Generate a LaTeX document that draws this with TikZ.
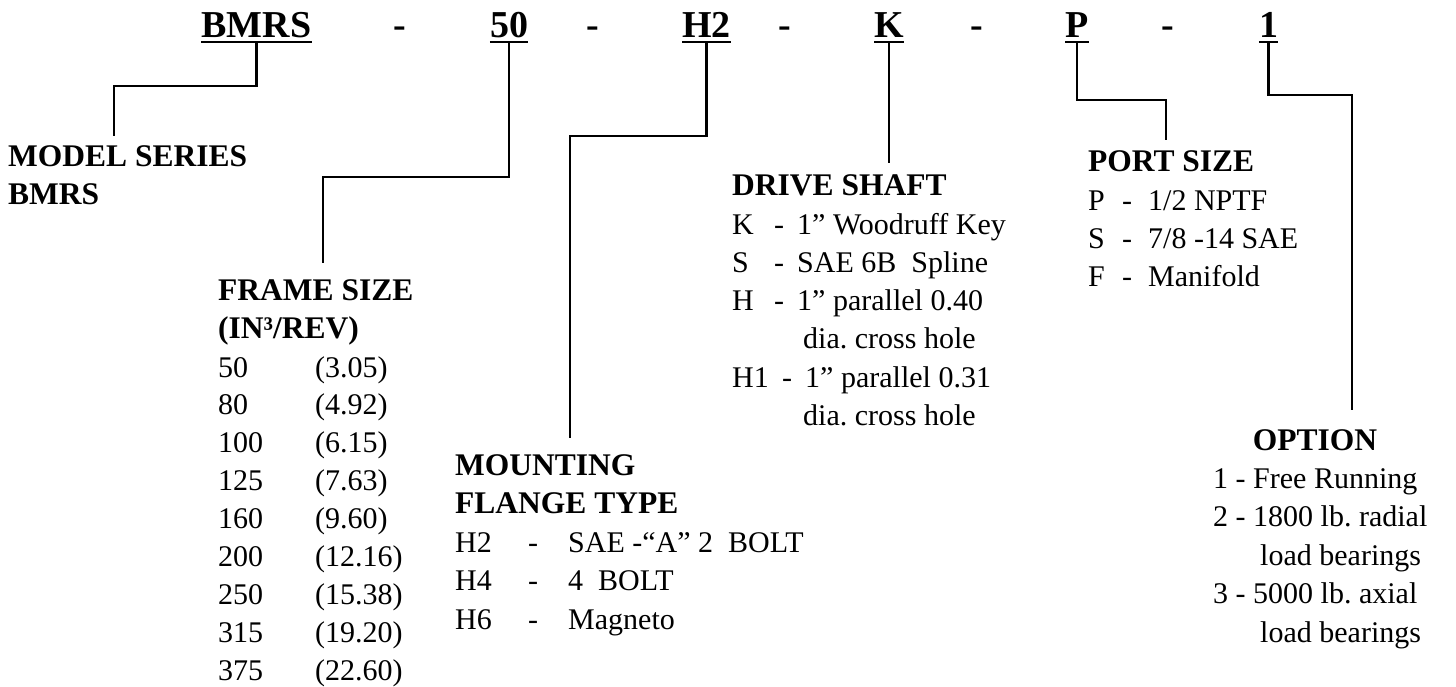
\documentclass[tikz,border=0pt]{standalone}
\usepackage{fontspec}
\setmainfont{Liberation Serif}
\usepackage{tikz}
\frenchspacing

\tikzset{
    code/.style={font=\fontsize{38}{40}\selectfont\bfseries, inner sep=0pt, anchor=base, text depth=0pt},
    head/.style={font=\fontsize{31.5}{38}\selectfont\bfseries, inner sep=0pt, anchor=base west},
    entry/.style={font=\fontsize{30}{38}\selectfont, inner sep=0pt, anchor=base west},
    lead/.style={line width=2.2pt},
    uline/.style={line width=2.6pt},
}

\begin{document}
\begin{tikzpicture}[x=1pt,y=-1pt]
    \useasboundingbox (0,0) rectangle (1456,687);

    % model code
    \foreach \n/\t/\x in {bmrs/BMRS/256.5, fsz/50/509, mnt/H2/706.5, shf/K/889, prt/P/1077, opt/1/1268.5}{
        \node[code] (\n) at (\x,38) {\t};
        \draw[uline] ([yshift=-4pt]\n.south west) -- ([yshift=-4pt]\n.south east);
    }
    \foreach \x [count=\i] in {400,593,785,977,1168}
        \node[code] (dash\i) at (\x,38) {-};

    % ends of the leaders
    \coordinate (ms-end) at (114,136);
    \coordinate (fs-end) at (323,263);
    \coordinate (mf-end) at (570,438);
    \coordinate (ds-end) at (889,163);
    \coordinate (ps-end) at (1166,140);
    \coordinate (op-end) at (1352,410);

    \draw[lead] ([yshift=-4pt]bmrs.south) |- (114,86) -- (ms-end);
    \draw[lead] ([yshift=-4pt]fsz.south) |- (323,177) -- (fs-end);
    \draw[lead] ([yshift=-4pt]mnt.south) |- (570,136) -- (mf-end);
    \draw[lead] ([yshift=-4pt]shf.south) -- (ds-end);
    \draw[lead] ([yshift=-4pt]prt.south) |- (1166,100) -- (ps-end);
    \draw[lead] ([yshift=-4pt]opt.south) |- (1352,95) -- (op-end);

    % model series
    \node[head] (ms-h1) at (8,167) {MODEL SERIES};
    \node[head] (ms-h2) at (8,205) {BMRS};

    % frame size
    \node[head] (fs-h1) at (218,300) {FRAME SIZE};
    \node[head] (fs-h2) at (218,338) {(IN³/REV)};
    \foreach \a/\b [count=\i from 0] in {50/3.05, 80/4.92, 100/6.15, 125/7.63, 160/9.60, 200/12.16, 250/15.38, 315/19.20, 375/22.60}{
        \node[entry] (fs-a\i) at (218,{377+\i*37.9}) {\a};
        \node[entry] (fs-b\i) at (315,{377+\i*37.9}) {(\b)};
    }

    % mounting flange
    \node[head] (mf-h1) at (455,475) {MOUNTING};
    \node[head] (mf-h2) at (455,513.5) {FLANGE TYPE};
    \foreach \a/\b [count=\i from 0] in {H2/{SAE -“A” 2~~BOLT}, H4/{4~~BOLT}, H6/Magneto}{
        \node[entry] (mf-a\i) at (455,{552+\i*38.5}) {\a};
        \node[entry] (mf-d\i) at (528,{552+\i*38.5}) {-};
        \node[entry] (mf-b\i) at (568,{552+\i*38.5}) {\b};
    }

    % drive shaft
    \node[head] (ds-h) at (732,196) {DRIVE SHAFT};
    \node[entry] (ds-a1) at (732,234.2) {K};
    \node[entry] (ds-d1) at (774,234.2) {-};
    \node[entry] (ds-b1) at (797,234.2) {1” Woodruff Key};
    \node[entry] (ds-a2) at (732,272.4) {S};
    \node[entry] (ds-d2) at (774,272.4) {-};
    \node[entry] (ds-b2) at (797,272.4) {SAE 6B~~Spline};
    \node[entry] (ds-a3) at (732,310.6) {H};
    \node[entry] (ds-d3) at (774,310.6) {-};
    \node[entry] (ds-b3) at (797,310.6) {1” parallel 0.40};
    \node[entry] (ds-c3) at (803,348.8) {dia. cross hole};
    \node[entry] (ds-a4) at (732,387) {H1};
    \node[entry] (ds-d4) at (782,387) {-};
    \node[entry] (ds-b4) at (805,387) {1” parallel 0.31};
    \node[entry] (ds-c4) at (803,425.2) {dia. cross hole};

    % port size
    \node[head] (ps-h) at (1088,172) {PORT SIZE};
    \foreach \a/\b [count=\i from 1] in {P/{1/2 NPTF}, S/{7/8 -14 SAE}, F/Manifold}{
        \node[entry] (ps-a\i) at (1088,{172+\i*38.3}) {\a};
        \node[entry] (ps-d\i) at (1122,{172+\i*38.3}) {-};
        \node[entry] (ps-b\i) at (1148,{172+\i*38.3}) {\b};
    }

    % option
    \node[head,anchor=base] (op-h) at (1315,450) {OPTION};
    \node[entry] (op-1) at (1213,488.4) {1 - Free Running};
    \node[entry] (op-2) at (1213,526.8) {2 - 1800 lb. radial};
    \node[entry] (op-2b) at (1260,565.2) {load bearings};
    \node[entry] (op-3) at (1213,603.6) {3 - 5000 lb. axial};
    \node[entry] (op-3b) at (1260,642) {load bearings};
\end{tikzpicture}
\end{document}
